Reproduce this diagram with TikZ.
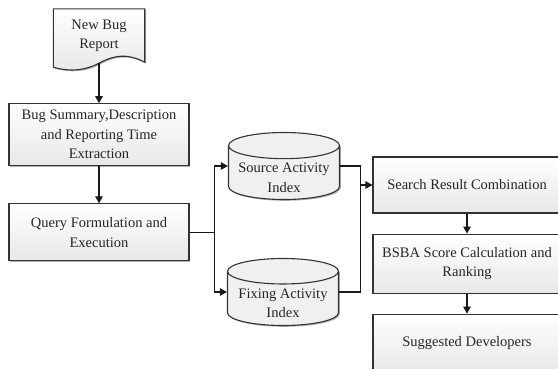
\documentclass[tikz,border=0pt]{standalone}
\usepackage{fontspec}
\setmainfont{Liberation Serif}
\usetikzlibrary{positioning,calc,arrows.meta,shapes.geometric,shadows,backgrounds}

\tikzset{
  boxline/.style={draw=black!80, line width=1.1pt},
  boxfill/.style={top color=white, bottom color=black!9},
  boxshadow/.style={drop shadow={shadow xshift=1.3pt, shadow yshift=-1.3pt, fill=black!30, opacity=1}},
  boxtext/.style={align=center, font=\fontsize{14.5}{19.5}\selectfont, text=black!85},
  procbox/.style={boxline, boxfill, boxshadow, boxtext, inner sep=2pt},
  docbox/.style={boxtext, inner sep=2pt, minimum width=91pt, minimum height=54pt},
  dbnode/.style={cylinder, shape border rotate=90, aspect=0.28, boxline, fill=black!6,
                 boxshadow, boxtext, minimum width=111pt, minimum height=67pt, inner sep=1pt,
                 anchor=shape center},
  flow/.style={line width=1.1pt, draw=black!90, -{Triangle[length=7pt,width=7.5pt]}},
  link/.style={line width=1.1pt, draw=black!90}
}
% index label, set a little below the cap of the cylinder
\newcommand{\idxlabel}[1]{\raisebox{-8pt}[12pt][12pt]{\begin{tabular}{@{}c@{}}#1\end{tabular}}}

\begin{document}
\begin{tikzpicture}[x=1pt,y=1pt]
  \clip (0,0) rectangle (558,-368);

  % left column
  \node[docbox] (report) at (99,-36) {New Bug\\Report};
  \node[procbox, minimum width=180pt, minimum height=62pt, below=40pt of report] (summary)
       {Bug Summary,Description\\and Reporting Time\\Extraction};
  \node[procbox, minimum width=180pt, minimum height=57pt, below=37pt of summary] (query)
       {Query Formulation and\\Execution};

  % indexes
  \node[dbnode] (source) at (284,-166) {\idxlabel{Source Activity\\Index}};
  \node[dbnode] (fixing) at (283,-292) {\idxlabel{Fixing Activity\\Index}};

  % right column
  \node[procbox, minimum width=188pt, minimum height=56pt] (search) at (467,-185)
       {Search Result Combination};
  \node[procbox, minimum width=188pt, minimum height=59pt, below=20pt of search] (bsba)
       {BSBA Score Calculation and\\Ranking};
  \node[procbox, minimum width=188pt, minimum height=57pt, below=20pt of bsba] (suggest)
       {Suggested Developers};

  % document outline with wavy bottom
  \begin{scope}[on background layer]
    \draw[boxline, boxfill, boxshadow]
      (report.north west) -- (report.north east) -- ([yshift=1pt]report.south east)
      .. controls +(-19,10) and +(13,7) .. (report.south)
      .. controls +(-13,-7) and +(17,-5) .. ([yshift=-4pt]report.south west) -- cycle;
  \end{scope}

  % connectors
  \draw[flow] (report.south) -- (summary);
  \draw[flow] (summary) -- (query);
  \draw[link] (query.east) -- ++(25,0) coordinate (split);
  \draw[flow] (split) |- (source.shape center -| source.west);
  \draw[flow] (split) |- (fixing.shape center -| fixing.west);
  \draw[link] (source.shape center -| source.east) -- ++(20,0) coordinate (merge)
              |- (fixing.shape center -| fixing.east);
  \draw[flow] (merge |- search.west) -- (search.west);
  \draw[flow] (search) -- (bsba);
  \draw[flow] (bsba) -- (suggest);
\end{tikzpicture}
\end{document}
